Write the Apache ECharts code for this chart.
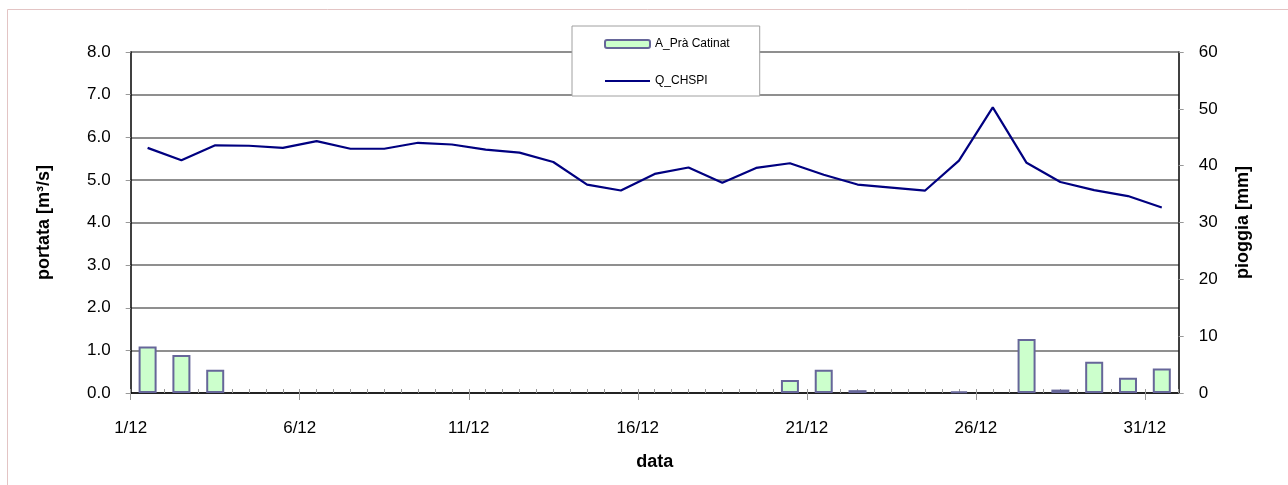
<!DOCTYPE html>
<html>
<head>
<meta charset="utf-8">
<script src="https://cdn.jsdelivr.net/npm/echarts@6/dist/echarts.min.js"></script>
<style>
html,body{margin:0;padding:0;background:#fff;}
#chart{width:1288px;height:485px;}
</style>
</head>
<body>
<div id="chart"></div>
<script>
// Days of December (1..31)
var days = [1,2,3,4,5,6,7,8,9,10,11,12,13,14,15,16,17,18,19,20,21,22,23,24,25,26,27,28,29,30,31];
// Rainfall A_Prà Catinat [mm]
var rain = [8.2,6.7,4.1,0,0,0,0,0,0,0,0,0,0,0,0,0,0,0,0,2.3,4.1,0.5,0,0,0.3,0,9.5,0.6,5.5,2.7,4.3];
// Discharge Q_CHSPI [m3/s]
var flow = [5.75,5.46,5.81,5.80,5.75,5.91,5.73,5.73,5.87,5.83,5.71,5.64,5.42,4.89,4.75,5.14,5.29,4.93,5.28,5.39,5.12,4.89,4.82,4.75,5.45,6.70,5.40,4.95,4.76,4.62,4.35];
var monthLabel = '12';

var FONT = '"Liberation Sans", Arial, sans-serif';
var rainData = days.map(function(d,i){ return rain[i] === 0 ? [d-0.5, null] : [d-0.5, rain[i]]; });
var flowData = days.map(function(d,i){ return [d-0.5, flow[i]]; });

var GRID_TOP = 52, GRID_BOTTOM = 92, H = 485;
var plotH = H - GRID_TOP - GRID_BOTTOM;

var chart = echarts.init(document.getElementById('chart'));
chart.setOption({
  animation:false,
  backgroundColor:'#fff',
  textStyle:{fontFamily:FONT},
  grid:{left:130.7, right:109.3, top:GRID_TOP, bottom:GRID_BOTTOM, containLabel:false},
  legend:{
    orient:'vertical', left:572, top:26,
    backgroundColor:'#fff', borderColor:'#a0a0a0', borderWidth:1,
    padding:[12,30,9,32], itemGap:25, itemWidth:45, itemHeight:8,
    textStyle:{fontFamily:FONT, fontSize:12, color:'#000'},
    data:[
      {name:'A_Prà Catinat'},
      {name:'Q_CHSPI', itemStyle:{opacity:0}, lineStyle:{color:'#000080', width:2}}
    ]
  },
  xAxis:[{
    type:'value', min:0, max:31, interval:5, position:'bottom',
    name:'data', nameLocation:'middle', nameGap:60,
    nameTextStyle:{fontFamily:FONT, fontSize:18, fontWeight:'bold', color:'#000'},
    axisLine:{show:true, onZero:false, lineStyle:{color:'#000', width:1.5}},
    axisTick:{show:true, inside:false, length:7, lineStyle:{color:'#999'}},
    axisLabel:{margin:27, fontFamily:FONT, fontSize:17, color:'#000',
      formatter:function(v){ return (v+1)+'/'+monthLabel; }},
    splitLine:{show:false}
  },{
    // minor half-day ticks, drawn upward from the bottom axis line
    type:'value', min:0, max:31, interval:0.5, position:'top', offset:-plotH,
    axisLine:{show:false, onZero:false},
    axisTick:{show:true, inside:false, length:4, lineStyle:{color:'#999', width:1}},
    axisLabel:{show:false}, splitLine:{show:false}
  }],
  yAxis:[{
    type:'value', min:0, max:8, interval:1, position:'left',
    name:'portata [m³/s]', nameLocation:'middle', nameGap:78, nameRotate:90,
    nameTextStyle:{fontFamily:FONT, fontSize:18, fontWeight:'bold', color:'#000'},
    axisLine:{show:true, onZero:false, lineStyle:{color:'#000', width:1.5}},
    axisTick:{show:true, inside:false, length:5, lineStyle:{color:'#999'}},
    axisLabel:{margin:20, fontFamily:FONT, fontSize:17, color:'#000',
      formatter:function(v){ return v.toFixed(1); }},
    splitLine:{show:true, lineStyle:{color:'#8f8f8f', width:2}}
  },{
    type:'value', min:0, max:60, interval:10, position:'right',
    name:'pioggia [mm]', nameLocation:'middle', nameGap:55, nameRotate:90,
    nameTextStyle:{fontFamily:FONT, fontSize:18, fontWeight:'bold', color:'#000'},
    axisLine:{show:true, onZero:false, lineStyle:{color:'#000', width:1.5}},
    axisTick:{show:true, inside:false, length:5, lineStyle:{color:'#999'}},
    axisLabel:{margin:20, fontFamily:FONT, fontSize:17, color:'#000'},
    splitLine:{show:false}
  }],
  graphic:[
    {type:'line', shape:{x1:7.5, y1:9.5, x2:7.5, y2:485}, style:{stroke:'#e3c4c4', lineWidth:1}, silent:true},
    {type:'line', shape:{x1:7.5, y1:9.5, x2:1288, y2:9.5}, style:{stroke:'#e3c4c4', lineWidth:1}, silent:true}
  ],
  series:[{
    name:'A_Prà Catinat', type:'bar', xAxisIndex:0, yAxisIndex:1,
    barWidth:18, data:rainData,
    itemStyle:{color:'#ccffcc', borderColor:'#666699', borderWidth:2}
  },{
    name:'Q_CHSPI', type:'line', xAxisIndex:0, yAxisIndex:0,
    data:flowData, symbol:'none', showSymbol:false,
    lineStyle:{color:'#000080', width:2.2}, itemStyle:{color:'#000080'}
  }]
});
</script>
</body>
</html>
